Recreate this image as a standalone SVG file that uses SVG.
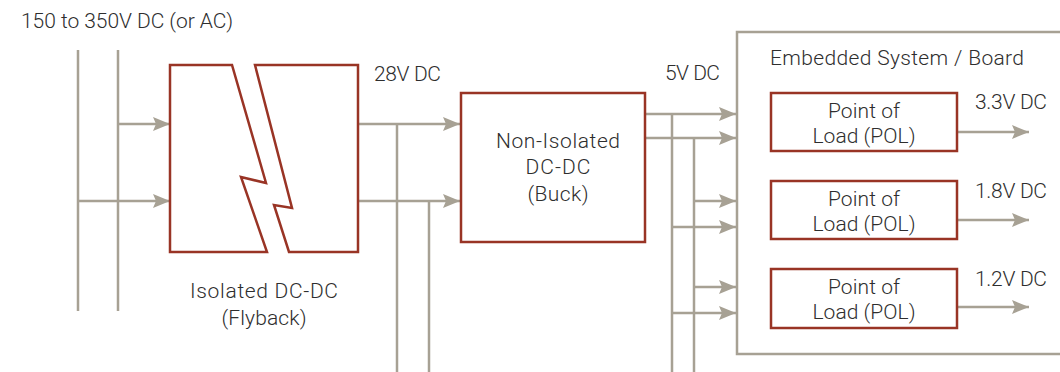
<svg xmlns="http://www.w3.org/2000/svg" width="1060" height="372" viewBox="0 0 1060 372">
<defs>
<marker id="ah" markerUnits="userSpaceOnUse" markerWidth="18" markerHeight="14" refX="17" refY="7" orient="auto">
<path d="M0,0 L17,7 L0,14 L3,7 Z" fill="#a7a194"/>
</marker>
<style>
.t{font-family:Roboto,"Liberation Sans",sans-serif;font-size:21px;font-weight:300;fill:#2e2e2e}
.c{text-anchor:middle}
.red{fill:#ffffff;stroke:#993425;stroke-width:2.5}
.w{fill:none;stroke:#a7a194;stroke-width:2.5}
.a{fill:none;stroke:#a7a194;stroke-width:2.5;marker-end:url(#ah)}
</style>
</defs>
<rect width="1060" height="372" fill="#ffffff"/>
<g id="board">
<rect x="737" y="32" width="330" height="322" fill="none" stroke="#a7a194" stroke-width="2.5"/>
<text class="t" x="770" y="65" textLength="254">Embedded System / Board</text>
</g>
<g id="connectors">
<line class="w" x1="78" y1="50" x2="78" y2="311"/>
<line class="w" x1="118" y1="50" x2="118" y2="311"/>
<line class="a" x1="118" y1="124" x2="170" y2="124"/>
<line class="a" x1="78" y1="201" x2="170" y2="201"/>
<line class="a" x1="358" y1="124" x2="460" y2="124"/>
<line class="a" x1="358" y1="201" x2="460" y2="201"/>
<line class="w" x1="397" y1="124" x2="397" y2="372"/>
<line class="w" x1="429" y1="201" x2="429" y2="372"/>
<line class="a" x1="645" y1="114" x2="736" y2="114"/>
<line class="a" x1="645" y1="138" x2="736" y2="138"/>
<line class="w" x1="672" y1="114" x2="672" y2="372"/>
<line class="w" x1="694" y1="138" x2="694" y2="372"/>
<line class="a" x1="694" y1="201" x2="736" y2="201"/>
<line class="a" x1="672" y1="227" x2="736" y2="227"/>
<line class="a" x1="694" y1="287" x2="736" y2="287"/>
<line class="a" x1="672" y1="313" x2="736" y2="313"/>
<line class="a" x1="957" y1="132" x2="1029" y2="132"/>
<line class="a" x1="957" y1="220" x2="1029" y2="220"/>
<line class="a" x1="957" y1="307" x2="1029" y2="307"/>
</g>
<g id="input-label">
<text class="t" x="21" y="28" textLength="212">150 to 350V DC (or AC)</text>
</g>
<g id="flyback">
<polygon class="red" points="170,65 232,65 266,183 241,177 267,252 170,252"/>
<polygon class="red" points="255,65 358,65 358,252 289,252 274,205 292,208"/>
<text class="t c" x="264" y="298" textLength="148">Isolated DC-DC</text>
<text class="t c" x="264" y="325" textLength="85">(Flyback)</text>
</g>
<g id="label-28v">
<text class="t" x="374" y="81" textLength="67">28V DC</text>
</g>
<g id="buck">
<rect class="red" x="461" y="93" width="184" height="149"/>
<text class="t c" x="558" y="148" textLength="124">Non-Isolated</text>
<text class="t c" x="558" y="174" textLength="65">DC-DC</text>
<text class="t c" x="558" y="201" textLength="61">(Buck)</text>
</g>
<g id="label-5v">
<text class="t" x="665" y="80" textLength="55">5V DC</text>
</g>
<g id="pol1">
<rect class="red" x="771" y="93" width="186" height="58"/>
<text class="t c" x="864" y="118" textLength="72">Point of</text>
<text class="t c" x="864" y="143" textLength="103">Load (POL)</text>
<text class="t" x="975" y="109" textLength="72">3.3V DC</text>
</g>
<g id="pol2">
<rect class="red" x="771" y="181" width="186" height="58"/>
<text class="t c" x="864" y="206" textLength="72">Point of</text>
<text class="t c" x="864" y="231" textLength="103">Load (POL)</text>
<text class="t" x="975" y="198" textLength="72">1.8V DC</text>
</g>
<g id="pol3">
<rect class="red" x="771" y="269" width="186" height="59"/>
<text class="t c" x="864" y="294" textLength="72">Point of</text>
<text class="t c" x="864" y="319" textLength="103">Load (POL)</text>
<text class="t" x="975" y="286" textLength="72">1.2V DC</text>
</g>
</svg>
